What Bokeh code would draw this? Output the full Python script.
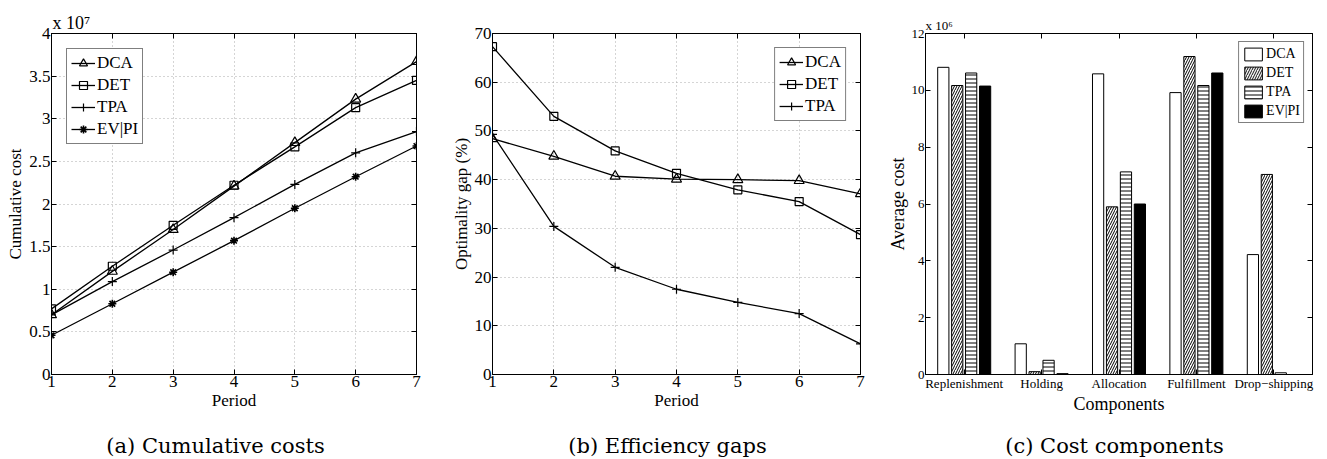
from bokeh.plotting import figure
from bokeh.layouts import row, column
from bokeh.models import (FixedTicker, LinearAxis, Legend, LegendItem, Title,
                          CustomJSTickFormatter, Range1d)
from bokeh.core.properties import value
from bokeh.embed import file_html
from bokeh.resources import INLINE

# ---------------- data ----------------
periods = [1, 2, 3, 4, 5, 6, 7]
# (a) cumulative cost, in units of 1e7
cum_dca = [0.70, 1.21, 1.70, 2.21, 2.72, 3.23, 3.67]
cum_det = [0.77, 1.27, 1.75, 2.22, 2.67, 3.13, 3.45]
cum_tpa = [0.70, 1.09, 1.46, 1.84, 2.23, 2.60, 2.85]
cum_evpi = [0.46, 0.83, 1.20, 1.57, 1.95, 2.32, 2.68]
cum_ticks = [0, 0.5, 1, 1.5, 2, 2.5, 3, 3.5, 4]
cum_tick_labels = ["0", "0.5", "1", "1.5", "2", "2.5", "3", "3.5", "4"]

# (b) optimality gap (%)
gap_dca = [48.4, 44.8, 40.7, 40.1, 40.0, 39.8, 37.1]
gap_det = [67.3, 53.0, 45.9, 41.3, 37.9, 35.5, 28.7]
gap_tpa = [49.3, 30.4, 22.0, 17.5, 14.8, 12.5, 6.3]
gap_ticks = [0, 10, 20, 30, 40, 50, 60, 70]

# (c) average cost components, in units of 1e6
components = ["Replenishment", "Holding", "Allocation", "Fulfillment", "Drop\u2212shipping"]
comp_dca = [10.81, 1.08, 10.58, 9.92, 4.22]
comp_det = [10.17, 0.10, 5.90, 11.19, 7.04]
comp_tpa = [10.61, 0.50, 7.13, 10.17, 0.06]
comp_evpi = [10.15, 0.03, 6.00, 10.61, 0.0]
comp_ticks = [0, 2, 4, 6, 8, 10, 12]

captions = ["(a) Cumulative costs", "(b) Efficiency gaps", "(c) Cost components"]

FONT = "Liberation Serif"
CAP_FONT = "DejaVu Serif"
LW = 1.3
CHART_H = 418
CAP_H = 459 - CHART_H


def style(p, tick_size="17px", label_size="17px", grid=True):
    p.outline_line_color = "black"
    p.outline_line_width = 1
    p.background_fill_color = "white"
    p.border_fill_color = "white"
    for ax in p.axis:
        ax.major_tick_in = 5
        ax.major_tick_out = 0
        ax.minor_tick_line_color = None
        ax.axis_line_color = "black"
        ax.major_tick_line_color = "black"
        ax.major_label_text_font = FONT
        ax.major_label_text_font_size = tick_size
        ax.major_label_text_color = "black"
        ax.axis_label_text_font = FONT
        ax.axis_label_text_font_size = label_size
        ax.axis_label_text_font_style = "normal"
        ax.axis_label_text_color = "black"
        ax.major_label_standoff = 1
        ax.axis_label_standoff = 1
    if grid:
        p.xgrid.grid_line_color = "#aaaaaa"
        p.ygrid.grid_line_color = "#aaaaaa"
        p.xgrid.grid_line_dash = "1 3"
        p.ygrid.grid_line_dash = "1 3"
    else:
        p.xgrid.grid_line_color = None
        p.ygrid.grid_line_color = None


def mirror_axes(p, xticks, yticks):
    blank = CustomJSTickFormatter(code="return ''")
    ra = LinearAxis(ticker=FixedTicker(ticks=yticks), formatter=blank)
    ta = LinearAxis(ticker=FixedTicker(ticks=xticks), formatter=blank)
    for ax in (ra, ta):
        ax.major_tick_in = 5
        ax.major_tick_out = 0
        ax.minor_tick_line_color = None
        ax.major_label_text_font_size = "1px"
        ax.major_label_standoff = 0
    p.add_layout(ra, "right")
    p.add_layout(ta, "above")


def multiplier(p, text, size, offset):
    t = Title(text=text, align="left", offset=offset, standoff=2)
    t.text_font = FONT
    t.text_font_size = size
    t.text_font_style = "normal"
    t.text_color = "black"
    p.add_layout(t, "above")


def style_legend(leg, size):
    leg.label_text_font = FONT
    leg.label_text_font_size = size
    leg.label_text_color = "black"
    leg.border_line_color = "black"
    leg.border_line_width = 1.2
    leg.background_fill_alpha = 1


# ---------------- (a) ----------------
pa = figure(width=440, height=CHART_H, output_backend="svg", toolbar_location=None,
            x_range=Range1d(1, 7), y_range=Range1d(0, 4),
            min_border_left=51, min_border_right=24, min_border_top=33, min_border_bottom=CHART_H - 376)
ra1 = pa.line(periods, cum_dca, color="black", line_width=LW)
ma1 = pa.scatter(periods, cum_dca, marker="triangle", size=10, line_color="black", fill_color=None, line_width=1.2)
ra2 = pa.line(periods, cum_det, color="black", line_width=LW)
ma2 = pa.scatter(periods, cum_det, marker="square", size=8, line_color="black", fill_color=None, line_width=1.2)
ra3 = pa.line(periods, cum_tpa, color="black", line_width=LW)
ma3 = pa.scatter(periods, cum_tpa, marker="cross", size=9, line_color="black", line_width=1.2)
ra4 = pa.line(periods, cum_evpi, color="black", line_width=LW)
ma4 = pa.scatter(periods, cum_evpi, marker="asterisk", size=8, line_color="black", line_width=1.6)
pa.xaxis.ticker = FixedTicker(ticks=periods)
pa.yaxis.ticker = FixedTicker(ticks=cum_ticks)
pa.yaxis.major_label_overrides = {t: l for t, l in zip(cum_ticks, cum_tick_labels)}
pa.xaxis.axis_label = "Period"
pa.yaxis.axis_label = "Cumulative cost"
style(pa)
mirror_axes(pa, periods, cum_ticks)
leg_a = Legend(items=[LegendItem(label="DCA", renderers=[ra1, ma1]),
                      LegendItem(label="DET", renderers=[ra2, ma2]),
                      LegendItem(label="TPA", renderers=[ra3, ma3]),
                      LegendItem(label="EV|PI", renderers=[ra4, ma4])],
               location="top_left", margin=15, padding=4, spacing=2,
               glyph_width=24, glyph_height=20, label_height=20, label_standoff=2)
style_legend(leg_a, "17px")
pa.add_layout(leg_a, "center")
multiplier(pa, "x 10\u2077", "18px", 1)

# ---------------- (b) ----------------
pb = figure(width=440, height=CHART_H, output_backend="svg", toolbar_location=None,
            x_range=Range1d(1, 7), y_range=Range1d(0, 70),
            min_border_left=52, min_border_right=20, min_border_top=31, min_border_bottom=CHART_H - 374)
rb1 = pb.line(periods, gap_dca, color="black", line_width=LW)
mb1 = pb.scatter(periods, gap_dca, marker="triangle", size=10, line_color="black", fill_color=None, line_width=1.2)
rb2 = pb.line(periods, gap_det, color="black", line_width=LW)
mb2 = pb.scatter(periods, gap_det, marker="square", size=8, line_color="black", fill_color=None, line_width=1.2)
rb3 = pb.line(periods, gap_tpa, color="black", line_width=LW)
mb3 = pb.scatter(periods, gap_tpa, marker="cross", size=9, line_color="black", line_width=1.2)
pb.xaxis.ticker = FixedTicker(ticks=periods)
pb.yaxis.ticker = FixedTicker(ticks=gap_ticks)
pb.xaxis.axis_label = "Period"
pb.yaxis.axis_label = "Optimality gap (%)"
style(pb)
mirror_axes(pb, periods, gap_ticks)
leg_b = Legend(items=[LegendItem(label="DCA", renderers=[rb1, mb1]),
                      LegendItem(label="DET", renderers=[rb2, mb2]),
                      LegendItem(label="TPA", renderers=[rb3, mb3])],
               location="top_right", margin=14, padding=4, spacing=2,
               glyph_width=24, glyph_height=20, label_height=20, label_standoff=2)
style_legend(leg_b, "17px")
pb.add_layout(leg_b, "center")

# ---------------- (c) ----------------
xs = list(range(1, len(components) + 1))
pc = figure(width=447, height=CHART_H, output_backend="svg", toolbar_location=None,
            x_range=Range1d(0.5, 5.5), y_range=Range1d(0, 12),
            min_border_left=45, min_border_right=15, min_border_top=29, min_border_bottom=CHART_H - 375)
bw = 0.145
offs = [-0.27, -0.09, 0.09, 0.27]
rc1 = pc.vbar(x=[x + offs[0] for x in xs], top=comp_dca, width=bw, fill_color="white",
              line_color="black", line_width=1)
rc2 = pc.vbar(x=[x + offs[1] for x in xs], top=comp_det, width=bw, fill_color="white",
              line_color="black", line_width=1, hatch_pattern="/", hatch_color="black",
              hatch_scale=5, hatch_weight=1)
rc3 = pc.vbar(x=[x + offs[2] for x in xs], top=comp_tpa, width=bw, fill_color="white",
              line_color="black", line_width=1, hatch_pattern="-", hatch_color="black",
              hatch_scale=4, hatch_weight=1)
rc4 = pc.vbar(x=[x + offs[3] for x in xs], top=comp_evpi, width=bw, fill_color="black",
              line_color="black", line_width=1)
pc.xaxis.ticker = FixedTicker(ticks=xs)
pc.xaxis.major_label_overrides = {x: c for x, c in zip(xs, components)}
pc.yaxis.ticker = FixedTicker(ticks=comp_ticks)
pc.xaxis.axis_label = "Components"
pc.yaxis.axis_label = "Average cost"
style(pc, tick_size="13px", label_size="18px", grid=False)
pc.xaxis.axis_label_standoff = 0
mirror_axes(pc, xs, comp_ticks)
leg_c = Legend(items=[LegendItem(label="DCA", renderers=[rc1]),
                      LegendItem(label="DET", renderers=[rc2]),
                      LegendItem(label="TPA", renderers=[rc3]),
                      LegendItem(label="EV|PI", renderers=[rc4])],
               location="top_right", margin=8, padding=3, spacing=2,
               glyph_width=22, glyph_height=16, label_height=17, label_standoff=2)
style_legend(leg_c, "14px")
pc.add_layout(leg_c, "center")
multiplier(pc, "x 10\u2076", "13px", 0)

# ---------------- captions strip ----------------
pcap = figure(width=1327, height=CAP_H, output_backend="svg", toolbar_location=None,
              x_range=Range1d(0, 1327), y_range=Range1d(0, CAP_H),
              min_border=0, min_border_left=0, min_border_right=0,
              min_border_top=0, min_border_bottom=0)
pcap.axis.visible = False
pcap.grid.grid_line_color = None
pcap.outline_line_color = None
pcap.text(x=[215, 667, 1114], y=[14] * 3, text=captions,
          text_align="center", text_baseline="middle",
          text_font=value(CAP_FONT), text_font_size="21px", text_color="black")

layout = column(row(pa, pb, pc, spacing=0), pcap, spacing=0)
open("out.html", "w").write(file_html(layout, INLINE))
